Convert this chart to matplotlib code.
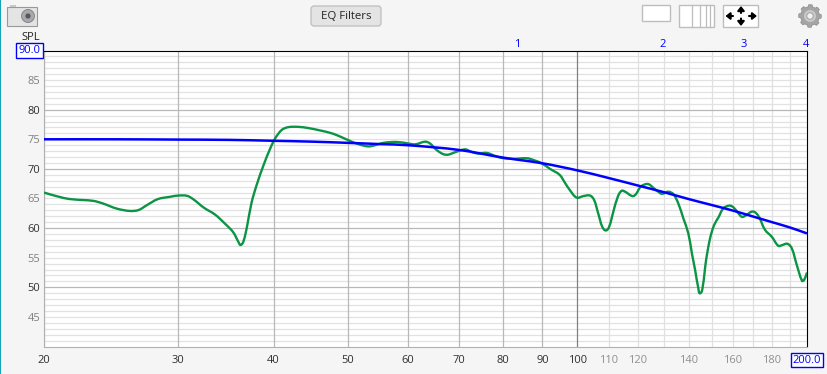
import matplotlib
matplotlib.use('Agg')
import matplotlib.pyplot as plt
import numpy as np
from matplotlib.patches import Rectangle, FancyBboxPatch, Circle, Polygon, PathPatch
from matplotlib.path import Path
from matplotlib.ticker import NullFormatter

plt.rcParams['font.family'] = ['Open Sans', 'DejaVu Sans']

# measured response (green)
freq = [20, 21.2, 21.85, 23.2, 23.9, 24.9, 25.9, 26.6, 27.3, 28.2, 29.3, 30, 30.8, 31.4, 32.4, 33.5,
        34.5, 35.4, 36.0, 36.2, 36.5, 36.9, 37.4, 38.0, 38.8, 39.6, 40.2, 41.0, 41.8, 43.1, 44.4,
        46.0, 47.4, 48.4, 50, 51.6, 53.2, 54.3, 55.7, 58.0, 60, 61.3, 63.2, 64.1, 65.4, 66.7, 67.7,
        69.1, 71.3, 72.7, 74.2, 76.1, 78.0, 79.6, 82.4, 85.9, 87.6, 89.8, 92.1, 94.8, 96.4, 97.8,
        99.8, 101.8, 103.9, 105.2, 106.5, 107.8, 109.0, 110.1, 111.5, 113, 114.3, 115.5, 118.1,
        119.3, 121.1, 123.7, 125.8, 128.4, 129.4, 131.6, 133.6, 135.6, 137.7, 139.8, 141.3, 142.7,
        144.1, 144.9, 146, 147.5, 149.3, 151.1, 153.1, 155.4, 158.3, 160.2, 162.6, 164.3, 165.9,
        169.8, 172.7, 176.2, 179.8, 183.4, 185.3, 188.5, 191, 193.9, 197, 198.2, 200]
spl = [66.0, 65.1, 64.85, 64.6, 64.15, 63.3, 62.9, 63.05, 63.9, 64.9, 65.3, 65.5, 65.45, 64.85, 63.45, 62.3,
       60.8, 59.3, 57.55, 57.15, 57.7, 60.2, 64.2, 67.3, 70.65, 73.5, 75.2, 76.6, 77.05, 77.1, 76.9,
       76.5, 76.1, 75.7, 74.9, 74.2, 73.8, 74.0, 74.4, 74.55, 74.3, 74.15, 74.6, 74.3, 73.2, 72.5, 72.4,
       72.8, 73.3, 72.85, 72.6, 72.7, 72.2, 71.85, 71.7, 71.8, 71.5, 70.95, 70.0, 69.0, 67.6, 66.4,
       65.15, 65.4, 65.5, 64.75, 62.5, 60.25, 59.6, 60.25, 62.8, 65.3, 66.3, 66.15, 65.4,
       65.7, 67.0, 67.45, 66.8, 65.9, 65.8, 66.15, 65.75, 64.2, 61.65, 59.1, 55.75, 52.9,
       49.8, 49.0, 50.1, 54.6, 58.3, 60.5, 61.8, 63.35, 63.8, 63.5, 62.5, 61.9, 62.05,
       62.8, 62.05, 59.7, 58.55, 57.0, 57.1, 57.35, 56.6, 53.8, 51.1, 51.2, 52.5]

# target curve (blue)
target_freq = [20, 25, 30, 35, 40, 45, 50, 55, 60, 70, 80, 90, 100, 110, 120, 130, 140, 150, 160, 170, 180, 190, 200]
target_spl = [75, 75, 74.95, 74.9, 74.75, 74.6, 74.4, 74.2, 74.0, 73.2, 71.9, 70.95, 69.75, 68.45, 67.2, 66.05,
              64.9, 63.9, 62.95, 61.95, 61.0, 60.1, 59.1]

x_major = [20, 30, 40, 50, 60, 70, 80, 90, 100]
x_light = [110, 120, 130, 140, 150, 160, 170, 180, 190]
x_ticks = [20, 30, 40, 50, 60, 70, 80, 90, 100, 110, 120, 140, 160, 180, 200]
x_labels = ['20', '30', '40', '50', '60', '70', '80', '90', '100', '110', '120', '140', '160', '180', '200.0']
x_grey = [110, 120, 140, 160, 180]
y_ticks = [45, 50, 55, 60, 65, 70, 75, 80, 85, 90]
y_labels = ['45', '50', '55', '60', '65', '70', '75', '80', '85', '90.0']
mode_freq = [83.4, 129.5, 165, 199.5]
mode_labels = ['1', '2', '3', '4']


def smooth_path(fs, dbs):
    # bezier through the read points, worked out in log-f so it bends like the screen curve
    u = np.log10(fs) * 763
    v = np.array(dbs) * 5.92
    p = np.c_[u, v]
    tan = np.gradient(p, axis=0)
    tan = tan / np.linalg.norm(tan, axis=1, keepdims=True)
    verts = [p[0]]
    codes = [Path.MOVETO]
    for i in range(len(p) - 1):
        d = np.linalg.norm(p[i + 1] - p[i]) / 3
        verts += [p[i] + tan[i] * d, p[i + 1] - tan[i + 1] * d, p[i + 1]]
        codes += [Path.CURVE4] * 3
    verts = np.array(verts)
    return Path(np.c_[10 ** (verts[:, 0] / 763), verts[:, 1] / 5.92], codes)


bg = '#f5f5f5'
fig = plt.figure(figsize=(8.28, 3.74), dpi=100, facecolor=bg)
ax = fig.add_axes([44 / 828, (374 - 346.5) / 374, 763 / 828, 296 / 374])
ax.set_xscale('log')
ax.set_xlim(20, 200)
ax.set_ylim(40, 90)

# grid
for y in range(41, 90):
    if y % 10 == 0:
        ax.axhline(y, color='#b8b8b8', lw=0.9, zorder=1.5)
    else:
        ax.axhline(y, color='#e2e2e2', lw=0.9, zorder=1)
for x in x_major:
    ax.axvline(x, color='#808080' if x == 100 else '#b8b8b8', lw=0.9, zorder=1.6)
for x in x_light:
    ax.axvline(x, color='#e0e0e0', lw=0.9, zorder=1.2)

# snap off, otherwise the patches land a pixel away from the grid
ax.add_patch(PathPatch(smooth_path(freq, spl), facecolor='none', edgecolor='#0b9444', lw=1.7, zorder=3, snap=False))
ax.add_patch(PathPatch(smooth_path(target_freq, target_spl), facecolor='none', edgecolor='#0000ff', lw=1.8, zorder=4, snap=False))

ax.set_xticks(x_ticks)
ax.set_xticklabels(x_labels)
ax.xaxis.set_minor_formatter(NullFormatter())
ax.set_yticks(y_ticks)
ax.set_yticklabels(y_labels)
ax.tick_params(which='both', length=0)
ax.tick_params(axis='x', pad=6, labelsize=8)
ax.tick_params(axis='y', pad=2.5, labelsize=8)
for t, v in zip(ax.get_xticklabels(), x_ticks):
    t.set_color('#909090' if v in x_grey else '#303030')
for t, v in zip(ax.get_yticklabels(), y_ticks):
    t.set_color('#303030' if v % 10 == 0 else '#808080')

xbox = dict(boxstyle='square,pad=0.14', facecolor='white', edgecolor='#0000ff', lw=1)
ybox = dict(boxstyle='square,pad=0.22', facecolor='white', edgecolor='#0000ff', lw=1)
ax.get_xticklabels()[-1].set_color('#0000ff')
ax.get_xticklabels()[-1].set_bbox(xbox)
ax.get_yticklabels()[-1].set_color('#0000ff')
ax.get_yticklabels()[-1].set_bbox(ybox)
ax.get_yticklabels()[-1].set_verticalalignment('center')

for side in ['left', 'bottom']:
    ax.spines[side].set_color('#b0b0b0')
for side in ['top', 'right']:
    ax.spines[side].set_color('black')

# mode markers along the top
for f, lab in zip(mode_freq, mode_labels):
    ax.text(f, 91.0, lab, color='#0000ff', fontsize=8, ha='center', va='center', clip_on=False)

# toolbar drawn in pixel coordinates
ov = fig.add_axes([0, 0, 1, 1], zorder=5)
ov.set_xlim(0, 828)
ov.set_ylim(374, 0)
ov.axis('off')
ov.patch.set_alpha(0)

ov.add_patch(Rectangle((0, 0), 1.3, 374, facecolor='#12a5b5', edgecolor='none'))

# SPL sits partly behind the 90.0 box
fig.text(31 / 828, 1 - 38 / 374, 'SPL', fontsize=8, ha='center', va='center', color='#222222', zorder=-1)

# camera
ov.add_patch(Rectangle((7, 7), 30, 18.5, facecolor='#e4e4e4', edgecolor='#999999', lw=0.8))
ov.add_patch(Rectangle((10, 5), 6, 2, facecolor='#c8c8c8', edgecolor='none'))
ov.add_patch(Circle((28, 16), 6.5, facecolor='#a8a8a8', edgecolor='#808080', lw=0.6))
ov.add_patch(Circle((28, 16), 2.6, facecolor='#555566', edgecolor='none'))

# EQ button
ov.add_patch(FancyBboxPatch((311, 6), 70, 20, boxstyle='round,pad=0,rounding_size=3',
                            facecolor='#e4e4e4', edgecolor='#bdbdbd', lw=0.9))
ov.text(346, 16.5, 'EQ Filters', fontsize=8.2, ha='center', va='center', color='#222222')

# layout buttons
ov.add_patch(Rectangle((642.5, 4.5), 28, 16, facecolor='white', edgecolor='#bdbdbd', lw=1))
ov.add_patch(Rectangle((679.5, 4.5), 35, 22.5, facecolor='white', edgecolor='#bdbdbd', lw=1))
for lx in [692.5, 700.5, 706, 710.5]:
    ov.plot([lx, lx], [4.5, 27], color='#bdbdbd', lw=0.9)
ov.add_patch(Rectangle((723.5, 4.5), 35, 22.5, facecolor='white', edgecolor='#bdbdbd', lw=1))
for tip, tail in [((725.5, 16), (733, 16)), ((757, 16), (749, 16)), ((741, 6), (741, 13)), ((741, 26), (741, 18.5))]:
    ov.annotate('', xy=tip, xytext=tail,
                arrowprops=dict(arrowstyle='-|>,head_width=0.2,head_length=0.25', color='black', lw=1.5,
                                shrinkA=0, shrinkB=0))

# gear
a = np.linspace(0, 2 * np.pi, 96, endpoint=False)
r = 9.4 + 1.9 * (np.cos(a * 8) > 0)
ov.add_patch(Polygon(np.c_[810 + r * np.cos(a), 16 + r * np.sin(a)], facecolor='#a5a5a5', edgecolor='#8c8c8c', lw=0.5))
ov.add_patch(Circle((810, 16), 6, facecolor='#c8c8c8', edgecolor='none'))
ov.add_patch(Circle((810, 16), 3.2, facecolor='#f0f0f0', edgecolor='#8c8c8c', lw=0.5))

fig.savefig('out.png', dpi=100, facecolor=bg)
